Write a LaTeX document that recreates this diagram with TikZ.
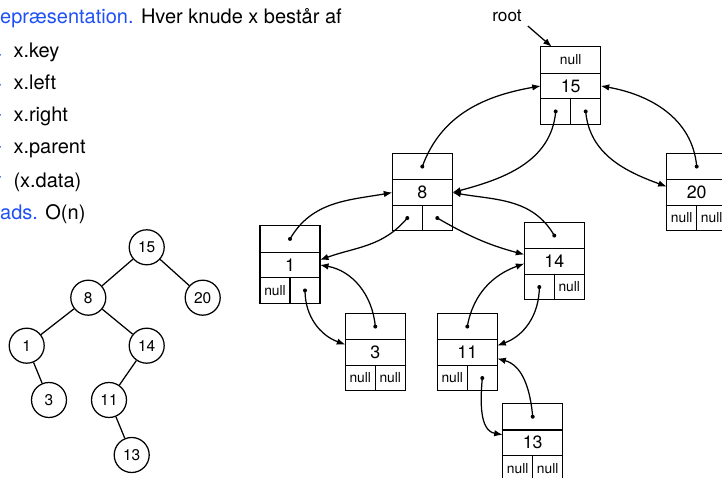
\documentclass[tikz,border=0pt]{standalone}
\usepackage{fontspec}
\setmainfont{TeX Gyre Heros}
\usetikzlibrary{arrows.meta}
\definecolor{kblue}{RGB}{30,80,245}
\newcommand\fsz[1]{\fontsize{#1}{#1}\selectfont}
\tikzset{
  box/.style={draw, line width=1.25pt, rectangle, inner sep=0pt, outer sep=0pt},
  prow/.style={box, minimum width=60pt, minimum height=26.5pt, font=\fsz{13.8}},
  krow/.style={box, minimum width=60pt, minimum height=25.5pt, font=\fsz{17.8}},
  crow/.style={box, minimum width=30pt, minimum height=25.5pt, font=\fsz{13.8}},
  ptr/.style={line width=1.25pt, -{Latex[length=8.5pt,width=6.5pt]}},
  circ/.style={draw, circle, line width=1.25pt, minimum size=35pt, inner sep=0pt, font=\fsz{15.5}},
  tedge/.style={line width=1.25pt},
  txt/.style={anchor=base west, inner sep=0pt, font=\fsz{20}},
}
% #1 name, #2 x, #3 y (top-left), #4 parent text, #5 key, #6 left, #7 right
\newcommand\bnode[7]{%
  \node[prow, anchor=north west] (#1p) at (#2,#3) {#4};
  \node[krow, anchor=north] (#1k) at (#1p.south) {#5};
  \node[crow, anchor=north west] (#1l) at (#1k.south west) {#6};
  \node[crow, anchor=north east] (#1r) at (#1k.south east) {#7};
}
\newcommand\pdot[1]{\fill (#1.center) circle (2pt);}
\begin{document}
\begin{tikzpicture}[x=1pt,y=1pt]
\useasboundingbox (0,0) rectangle (722,478);
\clip (0,0) rectangle (722,478);

% left text
\node[txt] (head) at (0,454) {\textcolor{kblue}{epræsentation.} Hver knude x består af};
\node[txt] (b1) at (13.3,420.7) {x.key};
\node[txt] (b2) at (13.3,388) {x.left};
\node[txt] (b3) at (13.3,356.3) {x.right};
\node[txt] (b4) at (13.3,324) {x.parent};
\node[txt] (b5) at (13.3,290.5) {(x.data)};
\node[txt] (pl) at (0,258) {\textcolor{kblue}{ads.} O(n)};
\foreach \yy in {423,393,363,331,301} \fill[kblue] (-0.8,\yy) circle (1.8pt);

% small tree
\node[circ] (c15) at (146.7,230.7) {15};
\node[circ] (c8) at (88.3,180.3) {8};
\node[circ] (c20) at (202.7,180.3) {20};
\node[circ] (c1) at (26.7,132.3) {1};
\node[circ] (c14) at (146.7,132.3) {14};
\node[circ] (c3) at (49,78) {3};
\node[circ] (c11) at (109,78) {11};
\node[circ] (c13) at (131.7,23) {13};
\draw[tedge] (c15) -- (c8);
\draw[tedge] (c15) -- (c20);
\draw[tedge] (c8) -- (c1);
\draw[tedge] (c8) -- (c14);
\draw[tedge] (c1) -- (c3);
\draw[tedge] (c14) -- (c11);
\draw[tedge] (c11) -- (c13);

% linked structure
\bnode{n15}{540.7}{431.3}{null}{15}{}{}
\bnode{n8}{392.3}{324.7}{}{8}{}{}
\bnode{n20}{666.7}{324.7}{}{20}{null}{null}
\bnode{n1}{260}{252.3}{}{1}{null}{}
\bnode{n14}{524.3}{255.7}{}{14}{}{null}
\bnode{n3}{345.3}{164.7}{}{3}{null}{null}
\bnode{n11}{437.3}{164.7}{}{11}{null}{}
\bnode{n13}{502.7}{74.5}{}{13}{null}{null}

\node[font=\fsz{17.2}, inner sep=0pt] (rootlbl) at (507,462) {root};
\draw[ptr] ([xshift=6pt,yshift=-4pt]rootlbl.south east) -- ([xshift=11pt]n15p.north west);

\pdot{n15l} \pdot{n15r}
\pdot{n8p} \pdot{n8l} \pdot{n8r}
\pdot{n20p}
\pdot{n1p} \pdot{n1r}
\pdot{n14p} \pdot{n14l}
\pdot{n3p}
\pdot{n11p} \pdot{n11r}
\pdot{n13p}

\draw[ptr] (n15l.center) to[out=-95,in=15] (n8k.east);
\draw[ptr] (n8p.center) to[out=70,in=190] (n15k.west);
\draw[ptr] (n15r.center) to[out=-85,in=160] ([yshift=6pt]n20k.west);
\draw[ptr] (n20p.center) to[out=95,in=-10] (n15k.east);
\draw[ptr] (n1p.center) to[out=60,in=190] (n8k.west);
\draw[ptr] (n8l.center) to[out=-130,in=20] ([yshift=5pt]n1k.east);
\draw[ptr] (n8r.center) to[out=-30,in=165] ([yshift=7pt]n14k.west);
\draw[ptr] (n14p.center) to[out=120,in=-10] (n8k.east);
\draw[ptr] (n1r.center) to[out=-90,in=160] ([yshift=8pt]n3k.west);
\draw[ptr] (n3p.center) to[out=95,in=-10] (n1k.east);
\draw[ptr] (n14l.center) to[out=-90,in=20] ([yshift=7pt]n11k.east);
\draw[ptr] (n11p.center) to[out=80,in=200] ([yshift=-2pt]n14k.west);
\draw[ptr] (n11r.center) to[out=-95,in=170] ([yshift=8pt]n13k.west);
\draw[ptr] (n13p.center) to[out=95,in=-15] ([yshift=-6pt]n11k.east);
\end{tikzpicture}
\end{document}
